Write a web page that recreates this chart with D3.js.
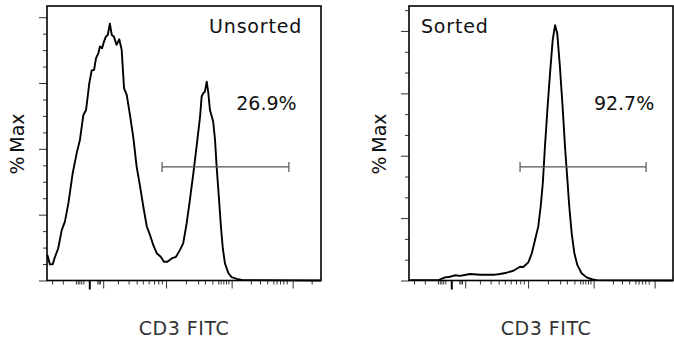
<!DOCTYPE html>
<html>
<head>
<meta charset="utf-8">
<script src="https://cdn.jsdelivr.net/npm/d3@7"></script>
<style>
  body { margin: 0; background: #fff; }
  svg { display: block; font-family: "DejaVu Sans", sans-serif; }
  .axis path.domain { display: none; }
  .axis line { stroke: #333; }
</style>
</head>
<body>
<div id="main"></div>
<script>
// panels
var panelNames = ["Unsorted", "Sorted"];
var gateLabels = ["26.9%", "92.7%"];
var gateStart = [430, 415];   // channel
var gateEnd = [904, 886];
var gateLevel = [34.5, 54.6]; // count units of each panel

// CD3 FITC histogram, unsorted (channel / count)
var unsortedChannel = [1, 11, 21, 30, 42, 55, 67, 80, 96, 111, 123, 136, 146, 158, 167, 176, 183, 192, 198, 206,
  213, 220, 227, 235, 242, 250, 260, 266, 270, 279, 288, 298, 310, 323, 335, 348, 360, 373, 385, 397,
  410, 425, 437, 450, 466, 482, 497, 509, 522, 534, 547, 559, 572, 578, 584, 590, 597, 603, 609, 621,
  628, 634, 643, 650, 657, 665, 678, 690, 709, 728, 1024];
var unsortedCount = [7.8, 4.9, 4.9, 7.2, 9.8, 15.3, 17.9, 23.5, 32.6, 38.7, 42.7, 50.3, 51.8, 59.9, 63.8, 64.0, 67.5, 69.1, 71.1, 70.6,
  72.6, 74.1, 74.6, 78.0, 74.6, 74.1, 71.6, 72.6, 73.3, 70.1, 58.4, 56.4, 50.3, 43.2, 34.6, 28.5, 22.4, 16.4, 13.8, 10.8,
  8.3, 7.2, 5.7, 5.7, 6.7, 7.2, 9.3, 11.3, 17.4, 24.5, 32.6, 40.7, 49.8, 55.9, 56.9, 57.4, 60.4, 56.9, 51.8, 48.3,
  42.7, 34.6, 24.5, 16.4, 9.8, 5.2, 2.2, 1.0, 0.5, 0.15, 0];

// CD3 FITC histogram, sorted
var sortedChannel = [4, 110, 135, 153, 172, 191, 203, 228, 265, 321, 340, 365, 390, 415, 427, 446, 459, 471, 483, 492,
  500, 508, 518, 527, 537, 546, 554, 564, 574, 583, 592, 599, 608, 618, 629, 645, 664, 683, 701, 987];
var sortedCount = [0.2, 0.2, 1.5, 1.8, 2.5, 2.2, 2.5, 3.1, 2.8, 2.8, 3.1, 3.75, 4.7, 6.6, 6.5, 8.7, 13.1, 19.5, 25.9, 35.5,
  46.7, 64.3, 83.6, 99.6, 115.6, 122.8, 118.8, 102.8, 83.6, 64.3, 48.3, 35.5, 22.7, 13.1, 7.5, 3.5, 1.5, 0.6, 0.2, 0];

// biex axis ticks (channel)
var xTicksMinor = [19, 59, 108, 115, 121, 128, 136, 188, 193, 198, 265, 305, 335, 358, 380, 400, 416, 429,
  519, 565, 590, 618, 640, 649, 659, 669, 678, 762, 796, 823, 846, 858, 871, 883, 896, 989];
var xTicksMajor = [210, 445, 690, 918];
var xTickZero = [158];

// %Max axis ticks
var yMajor = [[0, 20, 40, 60, 80], [0, 30, 60, 90, 120]];
var yMinor = [[5, 10, 15, 25, 30, 35, 45, 50, 55, 65, 70, 75], [10, 20, 40, 50, 70, 80, 100, 110, 130]];

var panels = [
  { left: 47, right: 321, top: 6, bottom: 280.5, xMax: 1024, yMax: 83.4, ch: unsortedChannel, ct: unsortedCount, lab: 184 },
  { left: 409, right: 673, top: 6, bottom: 280.5, xMax: 986.6, yMax: 132, ch: sortedChannel, ct: sortedCount, lab: 546 }
];

var svg = d3.select("#main").append("svg")
  .attr("width", 674)
  .attr("height", 341);

panels.forEach(function (p, i) {
  var x = d3.scaleLinear().domain([0, p.xMax]).range([p.left, p.right]);
  var y = d3.scaleLinear().domain([0, p.yMax]).range([p.bottom, p.top]);
  var g = svg.append("g");

  // y ticks
  g.append("g").attr("class", "axis")
    .attr("transform", "translate(" + p.left + ",0)")
    .call(d3.axisLeft(y).tickValues(yMajor[i]).tickSize(8).tickSizeOuter(0).tickFormat(""));
  g.append("g").attr("class", "axis")
    .attr("transform", "translate(" + p.left + ",0)")
    .call(d3.axisLeft(y).tickValues(yMinor[i]).tickSize(4).tickSizeOuter(0).tickFormat(""));

  // x ticks
  var xt = function (vals, size) {
    return g.append("g").attr("class", "axis")
      .attr("transform", "translate(0," + p.bottom + ")")
      .call(d3.axisBottom(x).tickValues(vals.filter(function (v) { return v <= p.xMax; }))
        .tickSize(size).tickSizeOuter(0).tickFormat(""));
  };
  xt(xTicksMinor, 4);
  xt(xTicksMajor, 8);
  xt(xTickZero, 9).selectAll("line").style("stroke", "#000").style("stroke-width", 2);

  // histogram
  var pts = p.ch.map(function (c, k) { return [c, p.ct[k]]; });
  var line = d3.line().x(function (d) { return x(d[0]); }).y(function (d) { return y(d[1]); });
  g.append("path")
    .datum(pts)
    .attr("d", line)
    .attr("fill", "none")
    .attr("stroke", "#000")
    .attr("stroke-width", 1.9)
    .attr("stroke-linejoin", "round");

  // frame
  g.append("rect")
    .attr("x", p.left).attr("y", p.top)
    .attr("width", p.right - p.left).attr("height", p.bottom - p.top)
    .attr("fill", "none").attr("stroke", "#000").attr("stroke-width", 1.6);

  // gate
  var gy = y(gateLevel[i]), gx0 = x(gateStart[i]), gx1 = x(gateEnd[i]);
  var gate = g.append("g").attr("stroke", "#555").attr("stroke-width", 1.2);
  gate.append("line").attr("x1", gx0).attr("x2", gx1).attr("y1", gy).attr("y2", gy);
  gate.append("line").attr("x1", gx0).attr("x2", gx0).attr("y1", gy - 5).attr("y2", gy + 5);
  gate.append("line").attr("x1", gx1).attr("x2", gx1).attr("y1", gy - 5).attr("y2", gy + 5);

  g.append("text")
    .attr("x", (gx0 + gx1) / 2 + 41).attr("y", 110)
    .attr("text-anchor", "middle")
    .style("font-size", "19px").style("fill", "#111")
    .text(gateLabels[i]);

  // panel title
  g.append("text")
    .attr("x", i == 0 ? p.right - 19 : p.left + 12)
    .attr("y", 32.5)
    .attr("text-anchor", i == 0 ? "end" : "start")
    .style("font-size", "19px").style("letter-spacing", "0.8px").style("fill", "#111")
    .text(panelNames[i]);

  // axis titles
  g.append("text")
    .attr("transform", "translate(" + (p.left - 23) + ",144) rotate(-90)")
    .attr("text-anchor", "middle")
    .style("font-size", "19px").style("fill", "#111")
    .text("%\u2009Max");
  g.append("text")
    .attr("x", p.lab).attr("y", 335)
    .attr("text-anchor", "middle")
    .style("font-size", "19px").style("letter-spacing", "0.5px").style("fill", "#333")
    .text("CD3 FITC");
});
</script>
</body>
</html>
